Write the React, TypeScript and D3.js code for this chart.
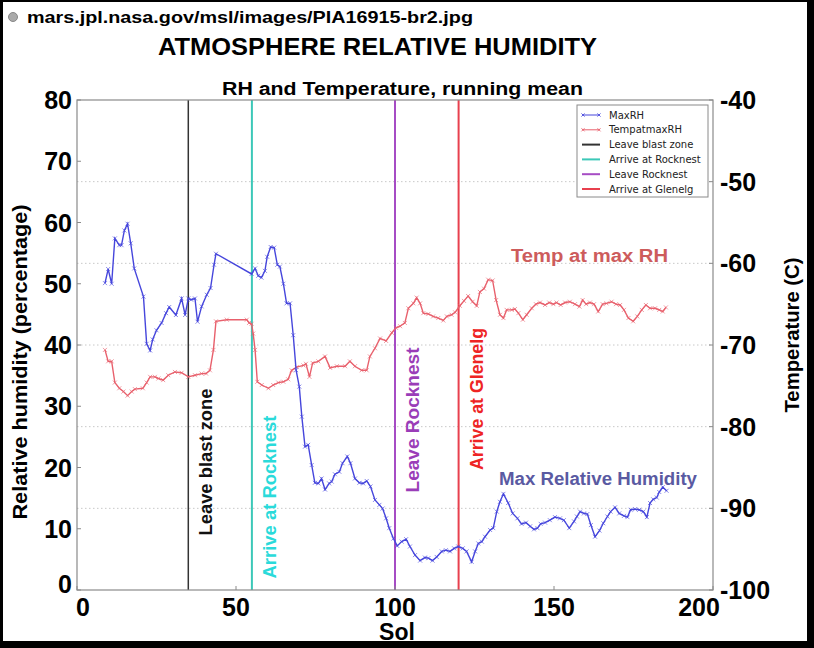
import * as d3 from "d3";

// MaxRH running mean (left axis, %)
const rhSol = [
  8.8, 9.8, 10.9, 11.9, 13.3, 14, 14.9, 15.9, 16.9, 18, 20.9, 21.9, 23, 23.8, 25, 26.6, 28, 29, 31.1, 32.9,
  34, 35, 35.9, 37.1, 37.9, 39.2, 40.8, 42, 43.1, 43.7, 54.9, 56, 57, 58, 59.1, 59.8, 60.9, 62, 63, 63.8,
  64.9, 65.9, 67, 68, 68.9, 69.9, 70.7, 71.7, 72.7, 73.8, 74.8, 75.9, 76.9, 78, 79.3, 80.1, 81.1, 82.5, 83.5, 85,
  86, 87.4, 88.8, 90, 91.1, 92.3, 93.7, 95.1, 96.1, 97.2, 98.2, 99.5, 100.7, 102.1, 103.5, 104.7, 106.3, 107.9, 109.4, 110.5,
  111.8, 113.1, 114.7, 116, 117.3, 118.6, 119.9, 121.3, 122.5, 124.1, 125.2, 126.2, 127.3, 128.3, 129.9, 130.9, 132, 133, 134.1, 135.6,
  137, 138.5, 139.8, 141.2, 142.5, 143.7, 144.8, 145.8, 147.2, 148.7, 150.3, 151.9, 153.1, 154.8, 156.3, 157.2, 158.2, 159.4, 160.5, 161.6,
  162.9, 164.3, 165.5, 166.8, 167.8, 169.2, 170.5, 172, 173.1, 174.1, 175.5, 176.8, 178.1, 179.2, 180.2, 181.2, 182.3, 183.1, 184.2, 185.4,
];
const maxRH = [
  50.1, 52.4, 50, 57.4, 56.3, 56.3, 58.7, 59.8, 56.6, 52.5, 47.9, 40.2, 39.1, 40.9, 42.4, 43.6, 45.2, 46.2, 44.9, 47.6,
  44.9, 47.6, 47.4, 47.6, 43.8, 46.3, 48.2, 49.3, 53.1, 54.9, 51.6, 52.5, 51.3, 51, 52.1, 54.4, 56, 55.9, 53.1, 52.8,
  50, 46.8, 46.8, 41.6, 35.9, 33.2, 28.3, 23.4, 23.7, 20.4, 17.5, 17.4, 18.2, 16.4, 17.4, 17.7, 18.9, 19.3, 20.7, 21.8,
  20.7, 18.2, 17.5, 17.4, 17.8, 16.9, 14.7, 13.9, 13.3, 11.7, 10.1, 8.4, 7.2, 7.9, 8.3, 7.1, 5.7, 4.8, 5.3, 5.2,
  4.8, 5.4, 6.3, 6.5, 6.3, 6.8, 7.1, 6.8, 6.3, 4.6, 6.3, 7.6, 7.9, 8.7, 9.8, 10.1, 12.8, 14.4, 15.7, 14.2,
  12.5, 11.7, 10.8, 11, 10.4, 9.9, 10.1, 10.8, 11, 11.4, 11.9, 11.7, 11.4, 10.1, 11.2, 12, 12.8, 12.5, 12.4, 10.6,
  8.7, 9.7, 10.9, 12, 12.8, 13.5, 12.5, 12.1, 11.9, 13.1, 13.2, 13.1, 12.8, 11.9, 14.2, 14.8, 15.1, 16, 16.8, 16.2,
];

// Temperature at max RH (right axis, C)
const tSol = [
  8.8, 9.8, 10.9, 11.9, 13.3, 14.6, 15.9, 17.2, 18.2, 20.7, 21.9, 23, 24.5, 25.6, 27.1, 28.7, 30.8, 32.9, 35, 37.1,
  39.2, 40.6, 41.8, 42.9, 43.7, 47.1, 53.4, 54.1, 54.9, 55.4, 56, 56.7, 58.1, 60.2, 61.7, 63.3, 64.9, 66.4, 67.5, 69.1,
  71.2, 72, 73.1, 74.1, 75.9, 78, 79.6, 81.7, 84.3, 85.8, 87.4, 89.5, 91.1, 92.1, 93.7, 95.3, 97.2, 99, 100.3, 101.6,
  103.1, 104.2, 105.8, 106.8, 107.9, 108.9, 110.5, 112, 113.6, 115.2, 116.3, 117.8, 118.9, 120.4, 121.7, 123, 124.4, 125.7, 126.7, 128,
  129.3, 130.7, 131.8, 133, 134.1, 135.1, 136.7, 137.7, 138.8, 140.2, 141.4, 143, 144.3, 145.6, 147.2, 148.5, 149.8, 150.8, 152.1, 153.5,
  155, 156.6, 158, 159, 160.1, 161.3, 162.6, 163.9, 165.3, 166.5, 168.1, 169.5, 170.8, 172, 173.4, 174.9, 176.2, 177.6, 178.9, 180.2,
  181.8, 183.1, 184.2, 185.2,
];
const tempAtMaxRH = [
  -70.6, -72.0, -72.0, -74.6, -75.3, -75.7, -76.2, -75.7, -75.4, -75.3, -74.6, -73.9, -73.9, -74.1, -74.3, -73.7, -73.3, -73.4, -73.9, -73.7,
  -73.5, -73.5, -73.1, -70.6, -67.1, -66.9, -66.9, -67.3, -67.4, -68.6, -70.6, -74.5, -74.9, -75.3, -74.9, -74.6, -74.5, -74.2, -73.1, -72.7,
  -72.5, -72.3, -73.9, -72.2, -72.0, -71.4, -72.8, -72.6, -72.6, -72.0, -72.6, -73.1, -73.1, -71.4, -70.4, -69.2, -69.5, -68.5, -67.9, -67.7,
  -67.3, -65.5, -64.9, -64.2, -64.9, -66.1, -66.2, -66.5, -66.7, -67.0, -66.5, -66.3, -66.0, -65.2, -64.6, -64.0, -64.7, -65.2, -63.5, -63.1,
  -62.0, -62.1, -64.5, -66.3, -66.7, -65.7, -65.7, -65.6, -66.1, -66.9, -66.3, -65.5, -65.0, -64.8, -65.1, -64.8, -65.0, -64.8, -65.1, -64.8,
  -64.7, -65.0, -65.3, -64.5, -65.0, -64.8, -65.0, -65.9, -65.0, -64.9, -64.7, -65.0, -65.1, -65.7, -66.7, -67.1, -66.5, -65.7, -65.1, -65.5,
  -65.5, -65.7, -65.9, -65.4,
];

// Mission events (sol)
const eventNames = ["Leave blast zone", "Arrive at Rocknest", "Leave Rocknest", "Arrive at Glenelg"];
const eventSols = [35, 55, 100, 120];
const eventColors = ["#333333", "#3cc8b8", "#a64cc4", "#e8404e"];
const eventTextColors = ["#111111", "#2adada", "#9a3db8", "#ee2424"];
const eventTextLen = [147, 163, 145, 142];
const eventTextY = [462, 497, 420, 399];

const xTicks = [0, 50, 100, 150, 200];
const rhTicks = [0, 10, 20, 30, 40, 50, 60, 70, 80];
const tTicks = [-100, -90, -80, -70, -60, -50, -40];
const gridTicks = [-90, -80, -70, -60, -50];

const BLUE = "#4646dc";
const RED = "#e8606c";
const FONT = "'Liberation Sans', Arial, sans-serif";

const x = d3.scaleLinear().domain([0, 200]).range([77, 713]);
const yL = d3.scaleLinear().domain([0, 80]).range([590, 100]);
const yR = d3.scaleLinear().domain([-100, -40]).range([590, 100]);

const rhPts: [number, number][] = rhSol.map((s, i) => [x(s), yL(maxRH[i])]);
const tPts: [number, number][] = tSol.map((s, i) => [x(s), yR(tempAtMaxRH[i])]);
const line = d3.line();

function crosses(pts: [number, number][], r = 2) {
  return pts.map(([px, py]) => `M${px - r},${py - r}L${px + r},${py + r}M${px - r},${py + r}L${px + r},${py - r}`).join("");
}

const legendItems = [
  { label: "MaxRH", color: BLUE, marker: true },
  { label: "TempatmaxRH", color: RED, marker: true },
  ...eventNames.map((n, i) => ({ label: n, color: eventColors[i], marker: false })),
];

export default function App() {
  const [x0, x1] = x.range();
  const [yb, yt] = yL.range();
  const tickXLabelDx: Record<number, number> = { 0: 6, 200: -14 };
  return (
    <svg width={814} height={648} style={{ position: "absolute", left: 0, top: 0, display: "block" }} fontFamily={FONT}>
      <rect x={0} y={0} width={814} height={648} fill="#000" />
      <rect x={3} y={2} width={804} height={639} fill="#fff" />

      {/* header */}
      <circle cx={13} cy={17} r={4.5} fill="#aaa" stroke="#888" strokeWidth={1} />
      <text x={27} y={23} fontSize={17} fontWeight="bold" textLength={446} lengthAdjust="spacingAndGlyphs">
        mars.jpl.nasa.gov/msl/images/PIA16915-br2.jpg
      </text>
      <text x={158} y={55} fontSize={24} fontWeight="bold" textLength={439} lengthAdjust="spacingAndGlyphs">
        ATMOSPHERE RELATIVE HUMIDITY
      </text>
      <text x={222} y={95} fontSize={18} fontWeight="bold" textLength={361} lengthAdjust="spacingAndGlyphs">
        RH and Temperature, running mean
      </text>

      {/* grid */}
      {gridTicks.map((t) => (
        <line key={t} x1={x0} x2={x1} y1={yR(t)} y2={yR(t)} stroke="#c8c8c8" strokeWidth={1} strokeDasharray="1.5,2.5" />
      ))}

      {/* event lines */}
      {eventSols.map((s, i) => (
        <line key={s} x1={x(s)} x2={x(s)} y1={yt} y2={yb} stroke={eventColors[i]} strokeWidth={i === 0 ? 1.5 : 2} />
      ))}

      {/* series */}
      <path d={line(tPts) ?? ""} fill="none" stroke={RED} strokeWidth={1.4} />
      <path d={crosses(tPts)} fill="none" stroke={RED} strokeWidth={0.8} opacity={0.8} />
      <path d={line(rhPts) ?? ""} fill="none" stroke={BLUE} strokeWidth={1.4} />
      <path d={crosses(rhPts)} fill="none" stroke={BLUE} strokeWidth={0.8} opacity={0.8} />

      {/* frame */}
      <rect x={x0} y={yt} width={x1 - x0} height={yb - yt} fill="none" stroke="#8a8a8a" strokeWidth={1.2} />
      {xTicks.map((t) => (
        <g key={t}>
          <line x1={x(t)} x2={x(t)} y1={yb} y2={yb - 4} stroke="#8a8a8a" />
          <text x={x(t) + (tickXLabelDx[t] ?? 0)} y={616} fontSize={25} fontWeight="bold" textAnchor="middle">
            {t}
          </text>
        </g>
      ))}
      {rhTicks.map((t) => (
        <g key={t}>
          <line x1={x0} x2={x0 + 4} y1={yL(t)} y2={yL(t)} stroke="#8a8a8a" />
          <text x={72} y={yL(t) + (t === 0 ? 3 : 9)} fontSize={25} fontWeight="bold" textAnchor="end">
            {t}
          </text>
        </g>
      ))}
      {tTicks.map((t) => (
        <g key={t}>
          <line x1={x1 - 4} x2={x1} y1={yR(t)} y2={yR(t)} stroke="#8a8a8a" />
          <text x={720} y={yR(t) + 9} fontSize={25} fontWeight="bold">
            {t}
          </text>
        </g>
      ))}

      {/* axis titles */}
      <text
        transform="translate(27,362) rotate(-90)"
        fontSize={21}
        fontWeight="bold"
        textAnchor="middle"
        textLength={315}
        lengthAdjust="spacingAndGlyphs"
      >
        Relative humidity (percentage)
      </text>
      <text
        transform="translate(799,335) rotate(-90)"
        fontSize={21}
        fontWeight="bold"
        textAnchor="middle"
        textLength={155}
        lengthAdjust="spacingAndGlyphs"
      >
        Temperature (C)
      </text>
      <text x={397} y={640} fontSize={23} fontWeight="bold" textAnchor="middle">
        Sol
      </text>

      {/* annotations */}
      {eventNames.map((n, i) => (
        <text
          key={n}
          transform={`translate(${x(eventSols[i]) + 24},${eventTextY[i]}) rotate(-90)`}
          fontSize={18}
          fontWeight="bold"
          fill={eventTextColors[i]}
          textAnchor="middle"
          textLength={eventTextLen[i]}
          lengthAdjust="spacingAndGlyphs"
        >
          {n}
        </text>
      ))}
      <text x={511} y={262} fontSize={18} fontWeight="bold" fill="#cd5c5c" textLength={157} lengthAdjust="spacingAndGlyphs">
        Temp at max RH
      </text>
      <text x={499} y={485} fontSize={18} fontWeight="bold" fill="#5a5aa2" textLength={198} lengthAdjust="spacingAndGlyphs">
        Max Relative Humidity
      </text>

      {/* legend */}
      <g>
        <rect x={577} y={105} width={131} height={92} fill="#fff" stroke="#8a8a8a" strokeWidth={1} />
        {legendItems.map((it, i) => {
          const ly = 115 + i * 14.8;
          return (
            <g key={it.label}>
              <line x1={582} x2={600} y1={ly} y2={ly} stroke={it.color} strokeWidth={it.marker ? 1 : 2} />
              {it.marker && <path d={crosses([[583, ly], [599, ly]], 1.6)} stroke={it.color} strokeWidth={0.8} />}
              <text x={609} y={ly + 3.5} fontSize={10} fill="#222" fontFamily="'DejaVu Sans', sans-serif">
                {it.label}
              </text>
            </g>
          );
        })}
      </g>
    </svg>
  );
}
